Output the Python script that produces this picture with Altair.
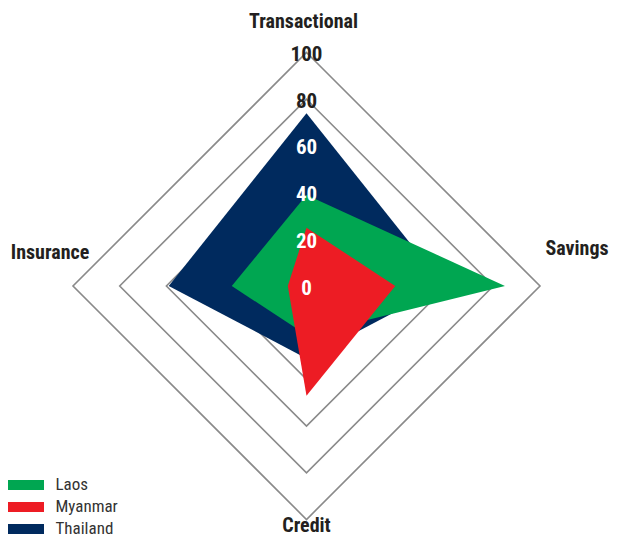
import altair as alt
import pandas as pd

# ---- data ----
dimensions = ["Transactional", "Savings", "Credit", "Insurance"]
laos = [39, 85, 21, 32]
myanmar = [25, 38, 47, 8]
thailand = [74, 59, 31, 59]
countries = ["Laos", "Myanmar", "Thailand"]
colors = ["#00A651", "#ED1C24", "#002A5E"]
grid_levels = [20, 40, 60, 80, 100]
tick_values = [0, 20, 40, 60, 80, 100]

# angle (degrees) of each dimension axis: up, right, down, left
angles = {"Transactional": 90, "Savings": 0, "Credit": 270, "Insurance": 180}

rows = []
for name, vals in [("Laos", laos), ("Myanmar", myanmar), ("Thailand", thailand)]:
    for i, (d, v) in enumerate(zip(dimensions, vals)):
        rows.append({"country": name, "dim": d, "idx": i, "value": v, "ang": angles[d]})
df = pd.DataFrame(rows)

grid_rows = []
for lv in grid_levels:
    for i, d in enumerate(dimensions):
        grid_rows.append({"level": lv, "idx": i, "value": lv, "ang": angles[d]})
grid_df = pd.DataFrame(grid_rows)

tick_df = pd.DataFrame({"value": tick_values, "ang": [90] * len(tick_values)})

# ---- layout ----
W, H = 603, 529
cx, cy = 298.5, 278.0
k = 2.335  # pixels per unit
xdom = [-cx / k, (W - cx) / k]
ydom = [-(H - cy) / k, cy / k]

FONT = "Liberation Sans Narrow, Roboto Condensed, DejaVu Sans Condensed, Arial Narrow, sans-serif"

xenc = alt.X("px:Q", scale=alt.Scale(domain=xdom, nice=False, zero=False), axis=None)
yenc = alt.Y("py:Q", scale=alt.Scale(domain=ydom, nice=False, zero=False), axis=None)

calc = dict(
    px="datum.value * cos(datum.ang * PI / 180)",
    py="datum.value * sin(datum.ang * PI / 180)",
)

grid = (
    alt.Chart(grid_df)
    .transform_calculate(**calc)
    .mark_line(interpolate="linear-closed", stroke="#8a8a8a", strokeWidth=1.6)
    .encode(x=xenc, y=yenc, detail="level:N", order="idx:Q")
)

color_scale = alt.Scale(domain=countries, range=colors)

polys = []
for name in ["Thailand", "Laos", "Myanmar"]:
    p = (
        alt.Chart(df)
        .transform_filter(alt.datum.country == name)
        .transform_calculate(**calc)
        .mark_line(interpolate="linear-closed", filled=True, strokeWidth=0)
        .encode(
            x=xenc,
            y=yenc,
            order="idx:Q",
            color=alt.Color(
                "country:N",
                scale=color_scale,
                legend=alt.Legend(
                    title=None,
                    orient="none",
                    legendX=7.5,
                    legendY=467,
                    symbolType="M-1.85,-0.5L1.85,-0.5L1.85,0.5L-1.85,0.5Z",
                    symbolSize=400,
                    symbolStrokeWidth=0,
                    labelFont=FONT,
                    labelFontSize=17,
                    labelColor="#333333",
                    labelOffset=20,
                    rowPadding=4,
                    values=countries,
                ),
            ),
        )
    )
    polys.append(p)

ticks = (
    alt.Chart(tick_df)
    .transform_calculate(**calc)
    .mark_text(font=FONT, fontSize=21, fontWeight="bold", baseline="middle", align="center", dy=2.5)
    .encode(
        x=xenc,
        y=yenc,
        text=alt.Text("value:Q"),
        color=alt.condition(alt.datum.value >= 80, alt.value("#231F20"), alt.value("#ffffff")),
    )
)

title_df = pd.DataFrame({"dim": dimensions, "value": [100] * 4, "ang": [angles[d] for d in dimensions]})
offsets = {
    "Transactional": (-3, -25, "alphabetic"),
    "Savings": (37, -31, "alphabetic"),
    "Credit": (0, 16.5, "bottom"),
    "Insurance": (-23, -27, "alphabetic"),
}
title_layers = []
for d in dimensions:
    dx, dy, bl = offsets[d]
    t = (
        alt.Chart(title_df)
        .transform_filter(alt.datum.dim == d)
        .transform_calculate(**calc)
        .mark_text(font=FONT, fontSize=20, fontWeight="bold", color="#231F20",
                   align="center", baseline=bl, dx=dx, dy=dy)
        .encode(x=xenc, y=yenc, text="dim:N")
    )
    title_layers.append(t)

chart = (
    alt.layer(grid, *polys, ticks, *title_layers)
    .properties(width=W, height=H, autosize=alt.AutoSizeParams(type="none"), padding=0)
    .configure_view(stroke=None)
)

chart.save("out.html", embed_options={"renderer": "svg", "actions": False})
